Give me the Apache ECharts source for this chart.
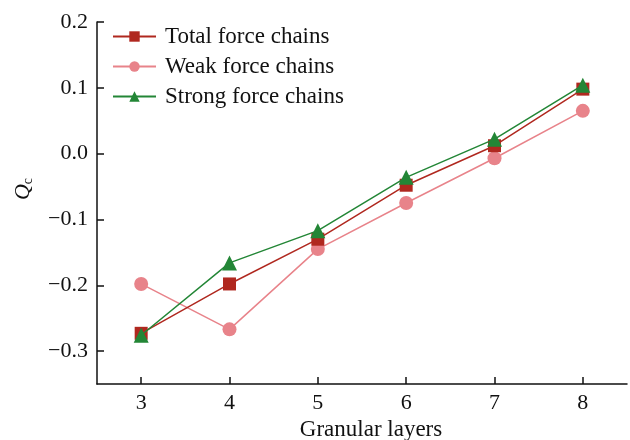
<!DOCTYPE html>
<html><head><meta charset="utf-8">
<script src="https://cdn.jsdelivr.net/npm/echarts@6/dist/echarts.min.js"></script>
<style>html,body{margin:0;padding:0;background:#fff}#c{width:630px;height:440px}</style>
</head><body><div id="c"></div>
<script>
const layers = [3, 4, 5, 6, 7, 8];
const totalChains = [-0.273, -0.198, -0.130, -0.048, 0.012, 0.098];
const weakChains = [-0.198, -0.267, -0.145, -0.075, -0.007, 0.065];
const strongChains = [-0.276, -0.166, -0.117, -0.036, 0.022, 0.104];
const yTicks = [-0.3, -0.2, -0.1, 0.0, 0.1, 0.2];
const xTicks = [3, 4, 5, 6, 7, 8];
const seriesNames = ['Total force chains', 'Weak force chains', 'Strong force chains'];

const font = '"Liberation Serif", "Times New Roman", serif';
const pair = arr => layers.map((x, i) => [x, arr[i]]);
const fmtY = v => {
  const s = Math.abs(v).toFixed(1);
  return v < -1e-9 ? '\u2212' + s : s;
};

const chart = echarts.init(document.getElementById('c'));
chart.setOption({
  animation: false,
  backgroundColor: '#fff',
  grid: { left: 97, right: 3, top: 22, bottom: 56, outerBoundsMode: 'none', containLabel: false },
  legend: {
    left: 107, top: 20, orient: 'vertical',
    itemWidth: 43, itemHeight: 13, itemGap: 7,
    textStyle: { fontFamily: font, fontSize: 23, lineHeight: 22, color: '#111', padding: [0, 0, 0, 4] },
    data: seriesNames
  },
  xAxis: {
    type: 'value', min: 2.5, max: 8.5,
    name: 'Granular layers', nameLocation: 'middle', nameGap: 33,
    nameTextStyle: { fontFamily: font, fontSize: 23, color: '#111', padding: [0, 0, 0, 18] },
    axisLine: { onZero: false, lineStyle: { color: '#111', width: 1.5 } },
    axisTick: { inside: true, length: 7, customValues: xTicks, lineStyle: { color: '#111', width: 1.5 } },
    axisLabel: { customValues: xTicks, fontFamily: font, fontSize: 22, color: '#111', margin: 8 },
    splitLine: { show: false }
  },
  yAxis: {
    type: 'value', min: -0.35, max: 0.2,
    name: '{q|Q}{s|c}', nameLocation: 'middle', nameGap: 62, nameRotate: 90,
    nameTextStyle: {
      padding: [0, 0, 0, 28],
      rich: {
        q: { fontFamily: font, fontStyle: 'italic', fontSize: 22, color: '#111' },
        s: { fontFamily: font, fontSize: 14, color: '#111', verticalAlign: 'bottom', padding: [9, 0, 0, 0] }
      }
    },
    axisLine: { show: true, onZero: false, lineStyle: { color: '#111', width: 1.5 } },
    axisTick: { show: true, inside: true, length: 7, customValues: yTicks, lineStyle: { color: '#111', width: 1.5 } },
    axisLabel: { customValues: yTicks, formatter: fmtY, fontFamily: font, fontSize: 22, color: '#111', margin: 9 },
    splitLine: { show: false }
  },
  series: [
    {
      name: seriesNames[0], type: 'line', data: pair(totalChains),
      symbol: 'rect', symbolSize: 13,
      lineStyle: { color: '#b0281f', width: 1.5 },
      itemStyle: { color: '#b0281f' }, z: 3
    },
    {
      name: seriesNames[1], type: 'line', data: pair(weakChains),
      symbol: 'circle', symbolSize: 14,
      lineStyle: { color: '#e8838a', width: 1.5 },
      itemStyle: { color: '#e8838a' }, z: 2
    },
    {
      name: seriesNames[2], type: 'line', data: pair(strongChains),
      symbol: 'triangle', symbolSize: 15,
      lineStyle: { color: '#238636', width: 1.5 },
      itemStyle: { color: '#238636' }, z: 4
    }
  ]
});
</script></body></html>
